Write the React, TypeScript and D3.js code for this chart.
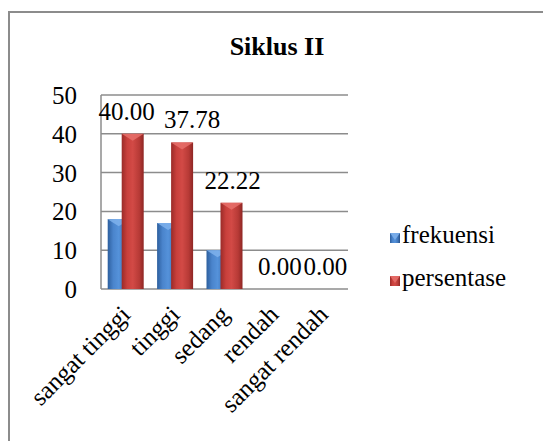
import React from "react";
import * as d3 from "d3";

const categories = ["sangat tinggi", "tinggi", "sedang", "rendah", "sangat rendah"];
const frekuensi = [18, 17, 10, 0, 0];
const persentase = [40.0, 37.78, 22.22, 0.0, 0.0];
const yTicks = [0, 10, 20, 30, 40, 50];
const seriesNames = ["frekuensi", "persentase"];
const title = "Siklus II";

export default function App() {
  const W = 543;
  const H = 441;
  const x = d3.scaleBand().domain(categories).range([101, 348]);
  const y = d3.scaleLinear().domain([0, 50]).range([289, 95]);
  const bw = 22;
  const labelNudge = [-6, 10, 1, -1, -5];

  const bevel = (bx, by, w, h, fillId, capFill, key) => {
    if (h <= 0) return null;
    const cap = Math.min(7, h);
    return (
      <g key={key}>
        <rect x={bx} y={by} width={w} height={h} fill={`url(#${fillId})`} />
        <polygon
          points={`${bx},${by} ${bx + w},${by} ${bx + w / 2},${by + cap}`}
          fill={capFill}
          opacity={0.85}
        />
      </g>
    );
  };

  return (
    <svg width={W} height={H} style={{ position: "absolute", left: 0, top: 0, background: "#fff" }}>
      <style>{`text { font-family: "Liberation Serif", serif; }`}</style>
      <defs>
        <linearGradient id="gBlue" x1="0" x2="1" y1="0" y2="0">
          <stop offset="0" stopColor="#2d5f9e" />
          <stop offset="0.25" stopColor="#4a84cc" />
          <stop offset="0.5" stopColor="#5592da" />
          <stop offset="0.8" stopColor="#3e74b8" />
          <stop offset="1" stopColor="#274f85" />
        </linearGradient>
        <linearGradient id="gRed" x1="0" x2="1" y1="0" y2="0">
          <stop offset="0" stopColor="#9a2b28" />
          <stop offset="0.25" stopColor="#c9403c" />
          <stop offset="0.5" stopColor="#d24a46" />
          <stop offset="0.8" stopColor="#b73a36" />
          <stop offset="1" stopColor="#8e2624" />
        </linearGradient>
      </defs>
      <rect x={9} y={12} width={560} height={460} fill="none" stroke="#8c8c8c" strokeWidth={2} />

      <text x={277} y={55} textAnchor="middle" fontWeight="bold" fontSize={26} fontFamily="Liberation Serif" fill="#000">
        {title}
      </text>

      {yTicks.map((t) => (
        <g key={t}>
          <line x1={101} x2={348} y1={y(t)} y2={y(t)} stroke="#8c8c8c" strokeWidth={1.5} />
          <text x={77} y={y(t) + 9} textAnchor="end" fontSize={25} fontFamily="Liberation Serif" fill="#000">
            {t}
          </text>
        </g>
      ))}
      <line x1={101} x2={101} y1={y(50)} y2={y(0)} stroke="#8c8c8c" strokeWidth={1.5} />

      {categories.map((c, i) => {
        const cx = x(c) + x.bandwidth() / 2;
        const yb = y(frekuensi[i]);
        const yr = y(persentase[i]);
        return (
          <g key={c}>
            {bevel(cx - 18, yb, bw, y(0) - yb, "gBlue", "#7fb2ec", "b" + i)}
            {bevel(cx - 4, yr, bw, y(0) - yr, "gRed", "#e8706b", "r" + i)}
          </g>
        );
      })}

      {categories.map((c, i) => {
        const cx = x(c) + x.bandwidth() / 2;
        return (
          <text
            key={"l" + c}
            x={cx + 7 + labelNudge[i]}
            y={y(persentase[i]) - 14}
            textAnchor="middle"
            fontSize={25}
            fontFamily="Liberation Serif"
            fill="#000"
          >
            {persentase[i].toFixed(2)}
          </text>
        );
      })}

      {categories.map((c) => {
        const cx = x(c) + x.bandwidth() / 2;
        return (
          <text
            key={"x" + c}
            transform={`translate(${cx + 6},${y(0) + 27}) rotate(-45)`}
            textAnchor="end"
            fontSize={25}
            fontFamily="Liberation Serif"
            fill="#000"
          >
            {c}
          </text>
        );
      })}

      {seriesNames.map((s, i) => {
        const ly = 243 + i * 43;
        return (
          <g key={s}>
            {bevel(390, ly - 10, 10, 10, i === 0 ? "gBlue" : "gRed", i === 0 ? "#7fb2ec" : "#e8706b", "lg" + i)}
            <text x={402} y={ly} fontSize={25} fontFamily="Liberation Serif" fill="#000">
              {s}
            </text>
          </g>
        );
      })}
    </svg>
  );
}
